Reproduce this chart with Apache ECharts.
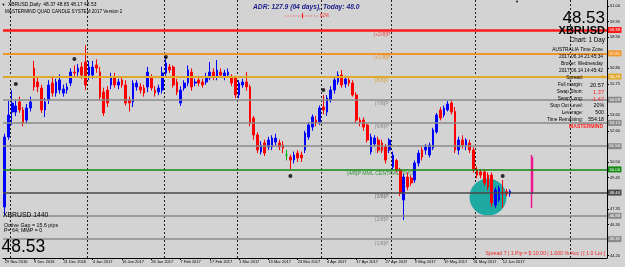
<!DOCTYPE html>
<html><head><meta charset="utf-8">
<script src="https://cdn.jsdelivr.net/npm/echarts@6/dist/echarts.min.js"></script>
<style>html,body{margin:0;padding:0;background:#d3d3d3;}#c{width:625px;height:267px;}</style>
</head><body><div id="c"></div>
<script>
// ---- data ----
const dateLabels = ['29 Nov 2016','9 Dec 2016','21 Dec 2016','4 Jan 2017','16 Jan 2017','26 Jan 2017','7 Feb 2017','17 Feb 2017','1 Mar 2017','13 Mar 2017','23 Mar 2017','4 Apr 2017','17 Apr 2017','27 Apr 2017','9 May 2017','19 May 2017','31 May 2017','12 Jun 2017'];
const labelEvery = 8;
const totalSlots = 165;
const monthStarts = [2, 23, 44, 64, 87, 106, 129, 155];
const priceTicks = [44.20,45.25,46.30,47.35,48.40,49.45,50.50,51.55,52.60,53.65,54.70,55.75,56.80,57.85,58.90,59.95,61.00];

const opens = [47.47,52.18,53.86,53.86,54.54,54.00,53.32,54.13,56.82,55.88,
55.48,54.00,54.67,55.81,55.14,55.34,55.14,55.34,55.81,56.55,
56.55,56.89,57.23,56.35,56.35,57.03,56.55,55.21,55.34,55.68,
56.22,55.68,56.02,55.68,54.67,54.54,55.55,55.55,55.48,55.55,
56.15,55.34,55.21,55.34,56.49,56.89,56.89,55.88,54.47,55.48,
55.81,56.55,55.81,56.02,55.88,55.88,56.15,56.55,56.22,56.55,
56.22,56.35,56.22,56.15,55.01,55.68,55.88,55.55,53.46,52.32,
51.17,51.78,51.51,51.51,51.84,51.78,51.64,50.97,50.83,50.63,
51.10,50.97,51.31,52.18,52.85,53.32,53.19,54.20,53.86,54.67,
55.34,55.88,56.35,55.75,56.02,55.81,55.01,53.32,53.32,52.99,
51.17,51.71,51.98,51.78,51.51,51.31,50.16,50.60,49.96,47.94,
49.49,49.42,49.29,50.43,51.31,51.31,50.97,51.44,52.52,54.00,
53.66,54.00,54.47,53.90,51.31,51.98,51.64,51.78,51.31,49.96,
49.83,49.83,49.62,49.62,47.60,47.94,48.45,48.50,48.37];
const closes = [52.18,53.66,54.47,54.27,54.00,53.12,54.13,54.54,55.55,55.55,
54.00,54.54,55.68,55.14,55.88,56.02,55.41,55.55,56.55,56.49,
56.82,56.35,55.68,56.89,56.89,56.82,54.87,53.80,54.47,56.15,
55.68,55.88,55.68,54.47,54.47,55.81,55.81,55.34,55.14,56.55,
55.48,55.14,55.48,56.49,57.16,56.69,55.68,55.21,55.34,55.81,
56.69,55.55,55.88,55.81,55.68,56.22,56.55,56.22,56.69,56.35,
56.49,56.55,55.81,55.01,55.81,55.88,55.55,53.12,52.32,51.31,
51.64,51.10,51.98,52.11,52.11,51.51,51.44,50.97,50.63,50.97,
50.77,50.77,52.45,52.99,53.53,53.12,54.13,54.00,54.80,55.34,
56.02,56.35,55.68,56.08,55.81,55.01,53.32,53.19,52.85,51.98,
52.18,52.11,51.31,51.31,50.63,51.98,50.97,49.96,48.41,49.49,
48.82,49.09,50.43,51.10,50.83,51.51,51.64,52.65,53.66,53.46,
54.13,54.40,53.86,51.31,51.98,51.64,51.98,51.31,49.96,49.62,
49.62,49.09,48.82,47.74,48.61,48.74,48.41,48.35,48.53];
const highs = [52.40,54.60,55.34,54.70,54.90,54.20,54.40,54.90,57.30,56.20,
55.70,54.80,56.00,56.30,56.10,56.40,55.70,55.80,56.80,57.00,
57.10,57.20,58.37,57.30,57.30,57.40,56.90,55.50,55.60,56.50,
56.50,56.10,56.20,56.00,54.90,56.00,56.00,55.80,55.70,56.90,
56.40,55.60,55.70,56.90,57.56,57.10,57.00,56.10,55.60,56.00,
57.00,56.80,56.10,56.30,56.10,56.50,57.23,56.80,57.36,56.80,
56.70,56.80,56.40,56.30,56.00,56.10,56.55,55.70,53.60,52.50,
51.90,52.00,52.20,52.30,52.40,52.00,51.90,51.30,51.00,51.20,
51.30,51.20,52.60,53.20,53.70,53.60,54.30,55.01,55.00,55.60,
56.20,56.60,56.69,56.30,56.20,56.00,55.20,53.50,53.50,53.10,
52.40,52.30,52.20,52.00,51.70,52.10,51.20,50.70,50.10,49.70,
49.80,49.60,50.60,51.30,51.50,51.70,51.80,52.80,53.80,54.20,
54.30,54.60,54.67,54.20,52.20,52.30,52.10,52.00,51.50,50.20,
50.00,50.00,49.80,49.80,48.80,48.90,49.29,48.70,48.65];
const lows = [46.90,52.00,53.00,53.60,53.80,52.90,53.10,53.90,55.30,55.20,
53.80,53.53,54.40,54.90,54.90,55.10,54.90,55.10,55.60,56.20,
56.30,56.10,55.34,56.00,56.10,56.50,54.70,53.60,54.20,55.40,
55.50,55.40,55.50,54.30,53.90,54.20,55.30,55.10,54.90,55.20,
55.30,54.90,55.00,55.10,56.30,56.50,55.50,55.00,54.27,55.30,
55.60,55.30,55.60,55.60,55.50,55.70,56.00,56.00,56.00,56.20,
56.00,56.20,55.60,54.80,54.80,55.50,55.30,52.90,52.00,51.10,
51.00,50.90,51.30,51.30,51.60,51.30,51.10,50.60,50.00,50.40,
50.50,50.50,51.10,52.00,52.60,52.90,53.00,53.70,53.60,54.50,
55.10,55.70,55.50,55.50,55.60,54.90,53.10,52.90,52.60,51.80,
51.00,51.50,51.10,51.10,50.40,51.10,50.00,49.80,48.20,46.60,
48.60,48.90,49.10,50.20,50.60,51.00,50.80,51.30,52.40,53.30,
53.50,53.90,53.70,51.10,51.00,51.40,51.30,51.10,49.80,49.40,
49.40,48.90,48.60,47.50,47.40,47.80,47.40,48.20,48.17];

const quadIndex = 144;
const quadOHLC = [48.41, 50.77, 47.40, 50.97]; // open, close, low, high

const levelValues = [59.375, 57.8125, 56.25, 54.6875, 53.125, 51.5625, 50.0, 48.4375, 46.875, 45.3125];
const levelNames = ['[+2/8]P','[+1/8]P','[8/8]P','[7/8]P','[6/8]P','[5/8]P','[4/8]P MML CENTRAL PIVOT','[3/8]P','[2/8]P','[1/8]P'];
const levelNameSlot = 103;

const fractalIdx = [3, 19, 44, 78, 87, 136];
const fractalVal = [55.75, 57.43, 57.56, 49.56, 55.34, 49.56];
const circleIdx = 132, circleVal = 48.14;

// ---- styles ----
const levelColors = ['#ff1a1a','#f0952a','#dfa92c','#8a8a8a','#8a8a8a','#8a8a8a','#108a10','#4a4a4a','#8a8a8a','#8a8a8a'];
const levelWidths = [2.5,2,2,1.5,1.5,1.5,1.5,1.5,1.5,1.5];
const levelTextColors = ['#ff2a2a','#f08a1a','#d89a20','#7a7a7a','#7a7a7a','#7a7a7a','#1a801a','#5a5a5a','#7a7a7a','#7a7a7a'];
const FF = '"Liberation Sans", Arial, sans-serif';

const cats = Array.from({length: totalSlots}, (_, i) => String(i));
const candleData = cats.map((_, i) => {
  if (i === quadIndex) {
    return {value: [quadOHLC[0], quadOHLC[1], quadOHLC[2], quadOHLC[3]],
      itemStyle: {color: '#ee1490', color0: '#ee1490', borderColor: '#ee1490', borderColor0: '#ee1490', borderWidth: 1.5}};
  }
  if (i >= opens.length) return '-';
  const item = {value: [opens[i], closes[i], lows[i], highs[i]]};
  if (opens[i] === closes[i]) item.itemStyle = {color:'#00b000', borderColor:'#00b000'};
  return item;
});

const chart = echarts.init(document.getElementById('c'), null, {renderer:'canvas'});

function txt(x, y, text, size, opts) {
  opts = opts || {};
  return {type:'text', x:x, y:y, z:100, silent:true, style:{text:text, fontSize:size, fontFamily:FF,
    fontWeight: opts.bold ? 'bold' : 'normal', fontStyle: opts.italic ? 'italic' : 'normal',
    fill: opts.color || '#000', align: opts.align || 'left', verticalAlign:'middle'}};
}

const graphics = [
  txt(1.5, 5, '▼', 4, {}),
  txt(8, 5, 'XBRUSD,Daily  48.37 48.65 48.17 48.53', 4.9, {}),
  txt(5, 11.5, 'MASTERMIND QUAD CANDLE SYSTEM 2017 Version 2', 4.6, {}),
  txt(253, 7, 'ADR: 127.9 (64 days), Today: 48.0', 6.7, {bold:true, italic:true, color:'#1c1c8c'}),
  {type:'line', z:100, silent:true, shape:{x1:285, y1:16, x2:319, y2:16}, style:{stroke:'#ff4a4a', lineWidth:1, lineDash:[1,1.6]}},
  {type:'line', z:100, silent:true, shape:{x1:302.5, y1:13, x2:302.5, y2:18.5}, style:{stroke:'#ff2020', lineWidth:1}},
  txt(320, 16, '62%', 4.6, {color:'#ff3030'}),
  txt(515, 2, '▼', 4, {}),
  txt(605, 18.5, '48.53', 17, {align:'right'}),
  txt(605, 30.5, 'XBRUSD', 11, {align:'right', bold:true}),
  txt(605, 40, 'Chart: 1 Day', 6.3, {align:'right'}),
  txt(603, 50, 'AUSTRALIA Time Zone', 4.8, {align:'right'}),
  txt(603, 57, '2017.06.14 21:45:34', 4.8, {align:'right'}),
  txt(603, 64, 'Broker: Wednesday', 4.8, {align:'right'}),
  txt(603, 71, '2017.06.14 14:45:42', 4.8, {align:'right'}),
  txt(583, 78, 'Spread:', 4.8, {align:'right'}),
  txt(604, 78, '7', 5.2, {align:'right', color:'#e8a020'}),
  txt(583, 85, 'Full margin:', 4.8, {align:'right'}),
  txt(604, 85, '20.57', 5.6, {align:'right'}),
  txt(583, 92, 'Swap Short:', 4.8, {align:'right'}),
  txt(604, 92, '1.37', 5.6, {align:'right', color:'#ff2020'}),
  txt(583, 99, 'Swap Long:', 4.8, {align:'right'}),
  txt(604, 99, '-1.47', 5.6, {align:'right', color:'#ff2020'}),
  txt(583, 106, 'Stop Out Level:', 4.8, {align:'right'}),
  txt(604, 106, '20%', 5.2, {align:'right'}),
  txt(583, 113, 'Leverage:', 4.8, {align:'right'}),
  txt(604, 113, '500', 5.2, {align:'right'}),
  txt(583, 120, 'Time Remaining:', 4.8, {align:'right'}),
  txt(604, 120, '554:18', 5.2, {align:'right'}),
  txt(603, 127, 'MASTERMIND', 5, {align:'right', bold:true, color:'#ff2020'}),
  txt(3, 215.5, 'XBRUSD 1440', 6.8, {}),
  txt(4, 225.5, 'Octive Gap = 15.6 pips', 5.3, {}),
  txt(4, 231, 'P= 64; MMP = 0', 5.3, {}),
  txt(1.5, 247.5, '48.53', 17.5, {}),
  txt(605, 254, 'Spread 7 | 1 Pip = $ 10.00 | 1.000 % Acc | [ 1.0 Lot ]', 5.2, {align:'right', color:'#f02828'})
];

chart.setOption({
  animation: false,
  backgroundColor: '#d3d3d3',
  textStyle: {fontFamily: FF},
  grid: {left: 3, right: 18, top: 0, bottom: 9, containLabel: false},
  xAxis: {
    type: 'category', data: cats, boundaryGap: true,
    axisLine: {show: true, onZero: false, lineStyle: {color: '#000', width: 1}},
    axisTick: {show: true, alignWithLabel: true, length: 2, interval: (i) => i % labelEvery === 0 && i / labelEvery < dateLabels.length, lineStyle: {color: '#000'}},
    axisLabel: {interval: (i) => i % labelEvery === 0 && i / labelEvery < dateLabels.length,
      formatter: (v) => dateLabels[Number(v) / labelEvery] || '', fontSize: 4, color: '#000', align: 'left', margin: 2, fontFamily: FF},
    splitLine: {show: true, interval: (i) => monthStarts.indexOf(i) >= 0, lineStyle: {color: '#222', type: [2, 2], width: 1}}
  },
  yAxis: {
    type: 'value', position: 'right', min: 44.04, max: 61.40, scale: true,
    axisLine: {show: true, lineStyle: {color: '#000', width: 1}},
    axisTick: {show: true, length: 2, customValues: priceTicks, lineStyle: {color: '#000'}},
    axisLabel: {customValues: priceTicks, formatter: (v) => Number(v).toFixed(2), fontSize: 4, margin: 3, color: '#000', fontFamily: FF},
    splitLine: {show: false}
  },
  series: [
    {type: 'scatter', z: 1, silent: true, symbolSize: 37, itemStyle: {color: '#1fa9a3', opacity: 1}, data: [[circleIdx, circleVal]]},
    {type: 'scatter', z: 2, silent: true, symbolSize: 1, itemStyle: {color: 'rgba(0,0,0,0)'},
      data: levelValues.map((v, k) => ({value: [levelNameSlot, v],
        label: {show: true, position: 'bottom', distance: 1, formatter: levelNames[k], color: levelTextColors[k], fontSize: 5.2, fontFamily: FF}})),
      markLine: {silent: true, symbol: 'none', animation: false,
        data: levelValues.map((v, k) => ({yAxis: v,
          lineStyle: {color: levelColors[k], width: levelWidths[k], type: 'solid'},
          label: {show: true, position: 'end', distance: 1, formatter: (p) => Number(p.value).toFixed(2),
            backgroundColor: levelColors[k], color: '#fff', fontSize: 4.2, padding: [1, 1.5], fontFamily: FF}}))}
    },
    {type: 'candlestick', z: 3, silent: true, barWidth: 2.2, data: candleData,
      itemStyle: {color: '#0000ff', color0: '#ff0000', borderColor: '#0000ff', borderColor0: '#ff0000', borderWidth: 1}},
    {type: 'scatter', z: 4, silent: true, symbol: 'circle', symbolSize: 4, itemStyle: {color: '#000'},
      data: fractalIdx.map((x, k) => [x, fractalVal[k]])}
  ],
  graphic: graphics
});
</script></body></html>
